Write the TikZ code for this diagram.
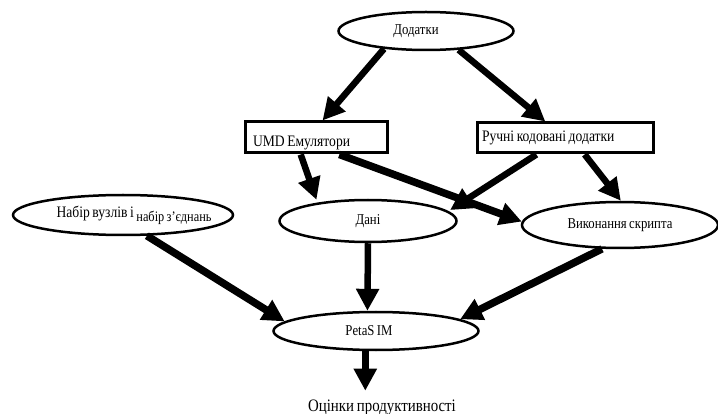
\documentclass[tikz,border=0pt]{standalone}
\usepackage{fontspec}
\setmainfont{Liberation Serif}[FakeStretch=0.85,WordSpace=0.75]
\usetikzlibrary{arrows.meta,shapes.geometric}
\tikzset{
  oval/.style={ellipse, draw, line width=2.5pt, inner sep=0pt},
  blok/.style={rectangle, draw, line width=3pt, inner ysep=0pt, align=flush left, font=\fontsize{16}{18}\selectfont},
  arr/.style={line width=6.5pt, -{Triangle[length=22pt,width=22pt]}},
  thickarr/.style={arr, line width=7.5pt}
}

\begin{document}
\begin{tikzpicture}[x=1pt,y=-1pt,font=\fontsize{15}{17}\selectfont]
     \useasboundingbox (0,0) rectangle (718,414);
     \node[oval, minimum width=175pt, minimum height=38pt] (dod) at (426,31) {\hspace*{-20pt}Додатки};
     \node[blok, text width=126pt, inner xsep=8pt, minimum height=31pt] (umd) at (316,137.5) {\raisebox{-5pt}[\height][\depth]{UMD Емулятори}};
     \node[blok, text width=166pt, inner xsep=5pt, minimum height=30pt] (ruc) at (565,138) {Ручні кодовані додатки};
     \node[oval, minimum width=220pt, minimum height=40pt, font=\fontsize{16}{18}\selectfont] (nab) at (123,215) {\makebox[0pt]{\hspace*{22pt}Набір вузлів і \raisebox{-4pt}{\fontsize{14.5}{16}\selectfont набір з'єднань}}};
     \node[oval, minimum width=177pt, minimum height=42pt] (dan) at (368,221) {Дані};
     \node[oval, minimum width=196pt, minimum height=46pt] (vyk) at (620,225) {Виконання скрипта};
     \node[oval, minimum width=205pt, minimum height=38pt] (pet) at (376,331) {\hspace*{-14pt}PetaS IM};
     \node[inner sep=0pt, anchor=base, font=\fontsize{17.5}{19}\selectfont] (ots) at (382,411.5) {Оцінки продуктивності};
     % arrows
     \draw[arr] (dod.203) -- (umd.69);
     \draw[arr] (dod.-30) -- (ruc.140);
     \draw[arr, shorten >=3pt] (umd.228) -- (dan.160);
     \draw[thickarr] (umd.-36) -- (vyk.178);
     \draw[arr, shorten >=2pt] (ruc.210) -- (dan.7);
     \draw[arr] (ruc.-40) -- (vyk.88);
     \draw[thickarr] (nab.-41) -- (pet.174);
     \draw[arr] (dan.south) -- (pet.113);
     \draw[thickarr] (vyk.233) -- (pet.8);
     \draw[arr, shorten >=9pt] (pet.-118) -- (pet.-118 |- ots.north);
\end{tikzpicture}
\end{document}
